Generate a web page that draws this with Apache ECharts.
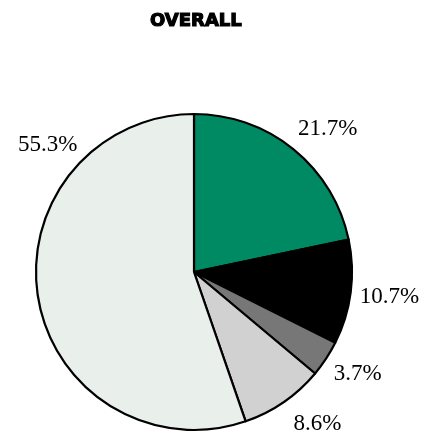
<!DOCTYPE html>
<html>
<head>
<meta charset="utf-8">
<script src="https://cdn.jsdelivr.net/npm/echarts@6/dist/echarts.min.js"></script>
<style>
  html, body { margin: 0; padding: 0; background: #ffffff; }
  #chart { width: 422px; height: 437px; }
</style>
</head>
<body>
<div id="chart"></div>
<script>
// Share of responses, clockwise from 12 o'clock
const categories = ['A', 'B', 'C', 'D', 'E'];
const shares = [21.7, 10.7, 3.7, 8.6, 55.3];
const sliceColors = ['#008a63', '#000000', '#777777', '#d1d1d1', '#e9f0ec'];

const CX = 194, CY = 272, R = 158;
// label placement around the pie: angle (degrees clockwise from top) and distance of label centre
const labelSpots = [
  { angle: 43, dist: 196 },
  { angle: 97.4, dist: 197 },
  { angle: 122, dist: 193 },
  { angle: 141, dist: 196 },
  { angle: 311, dist: 194 }
];

const chart = echarts.init(document.getElementById('chart'), null, { renderer: 'canvas' });

chart.setOption({
  animation: false,
  backgroundColor: '#ffffff',
  title: {
    text: 'OVERALL',
    left: 145,
    top: 7,
    textStyle: {
      fontFamily: 'DejaVu Sans',
      fontWeight: 'bold',
      fontSize: 18,
      color: '#000000',
      textBorderColor: '#000000',
      textBorderWidth: 1.2
    }
  },
  series: [{
    type: 'pie',
    center: [CX, CY],
    radius: [0, R],
    startAngle: 90,
    clockwise: true,
    avoidLabelOverlap: false,
    label: {
      show: true,
      position: 'outside',
      formatter: p => p.value.toFixed(1) + '%',
      fontFamily: 'Liberation Serif',
      fontSize: 23,
      color: '#000000'
    },
    labelLine: { show: false },
    labelLayout: params => {
      const s = labelSpots[params.dataIndex];
      const a = s.angle * Math.PI / 180;
      return {
        x: CX + s.dist * Math.sin(a),
        y: CY - s.dist * Math.cos(a),
        align: 'center',
        verticalAlign: 'middle'
      };
    },
    itemStyle: { borderColor: '#000000', borderWidth: 2.2 },
    emphasis: { disabled: true },
    data: categories.map((c, i) => ({
      name: c,
      value: shares[i],
      itemStyle: { color: sliceColors[i] }
    }))
  }]
});
</script>
</body>
</html>
